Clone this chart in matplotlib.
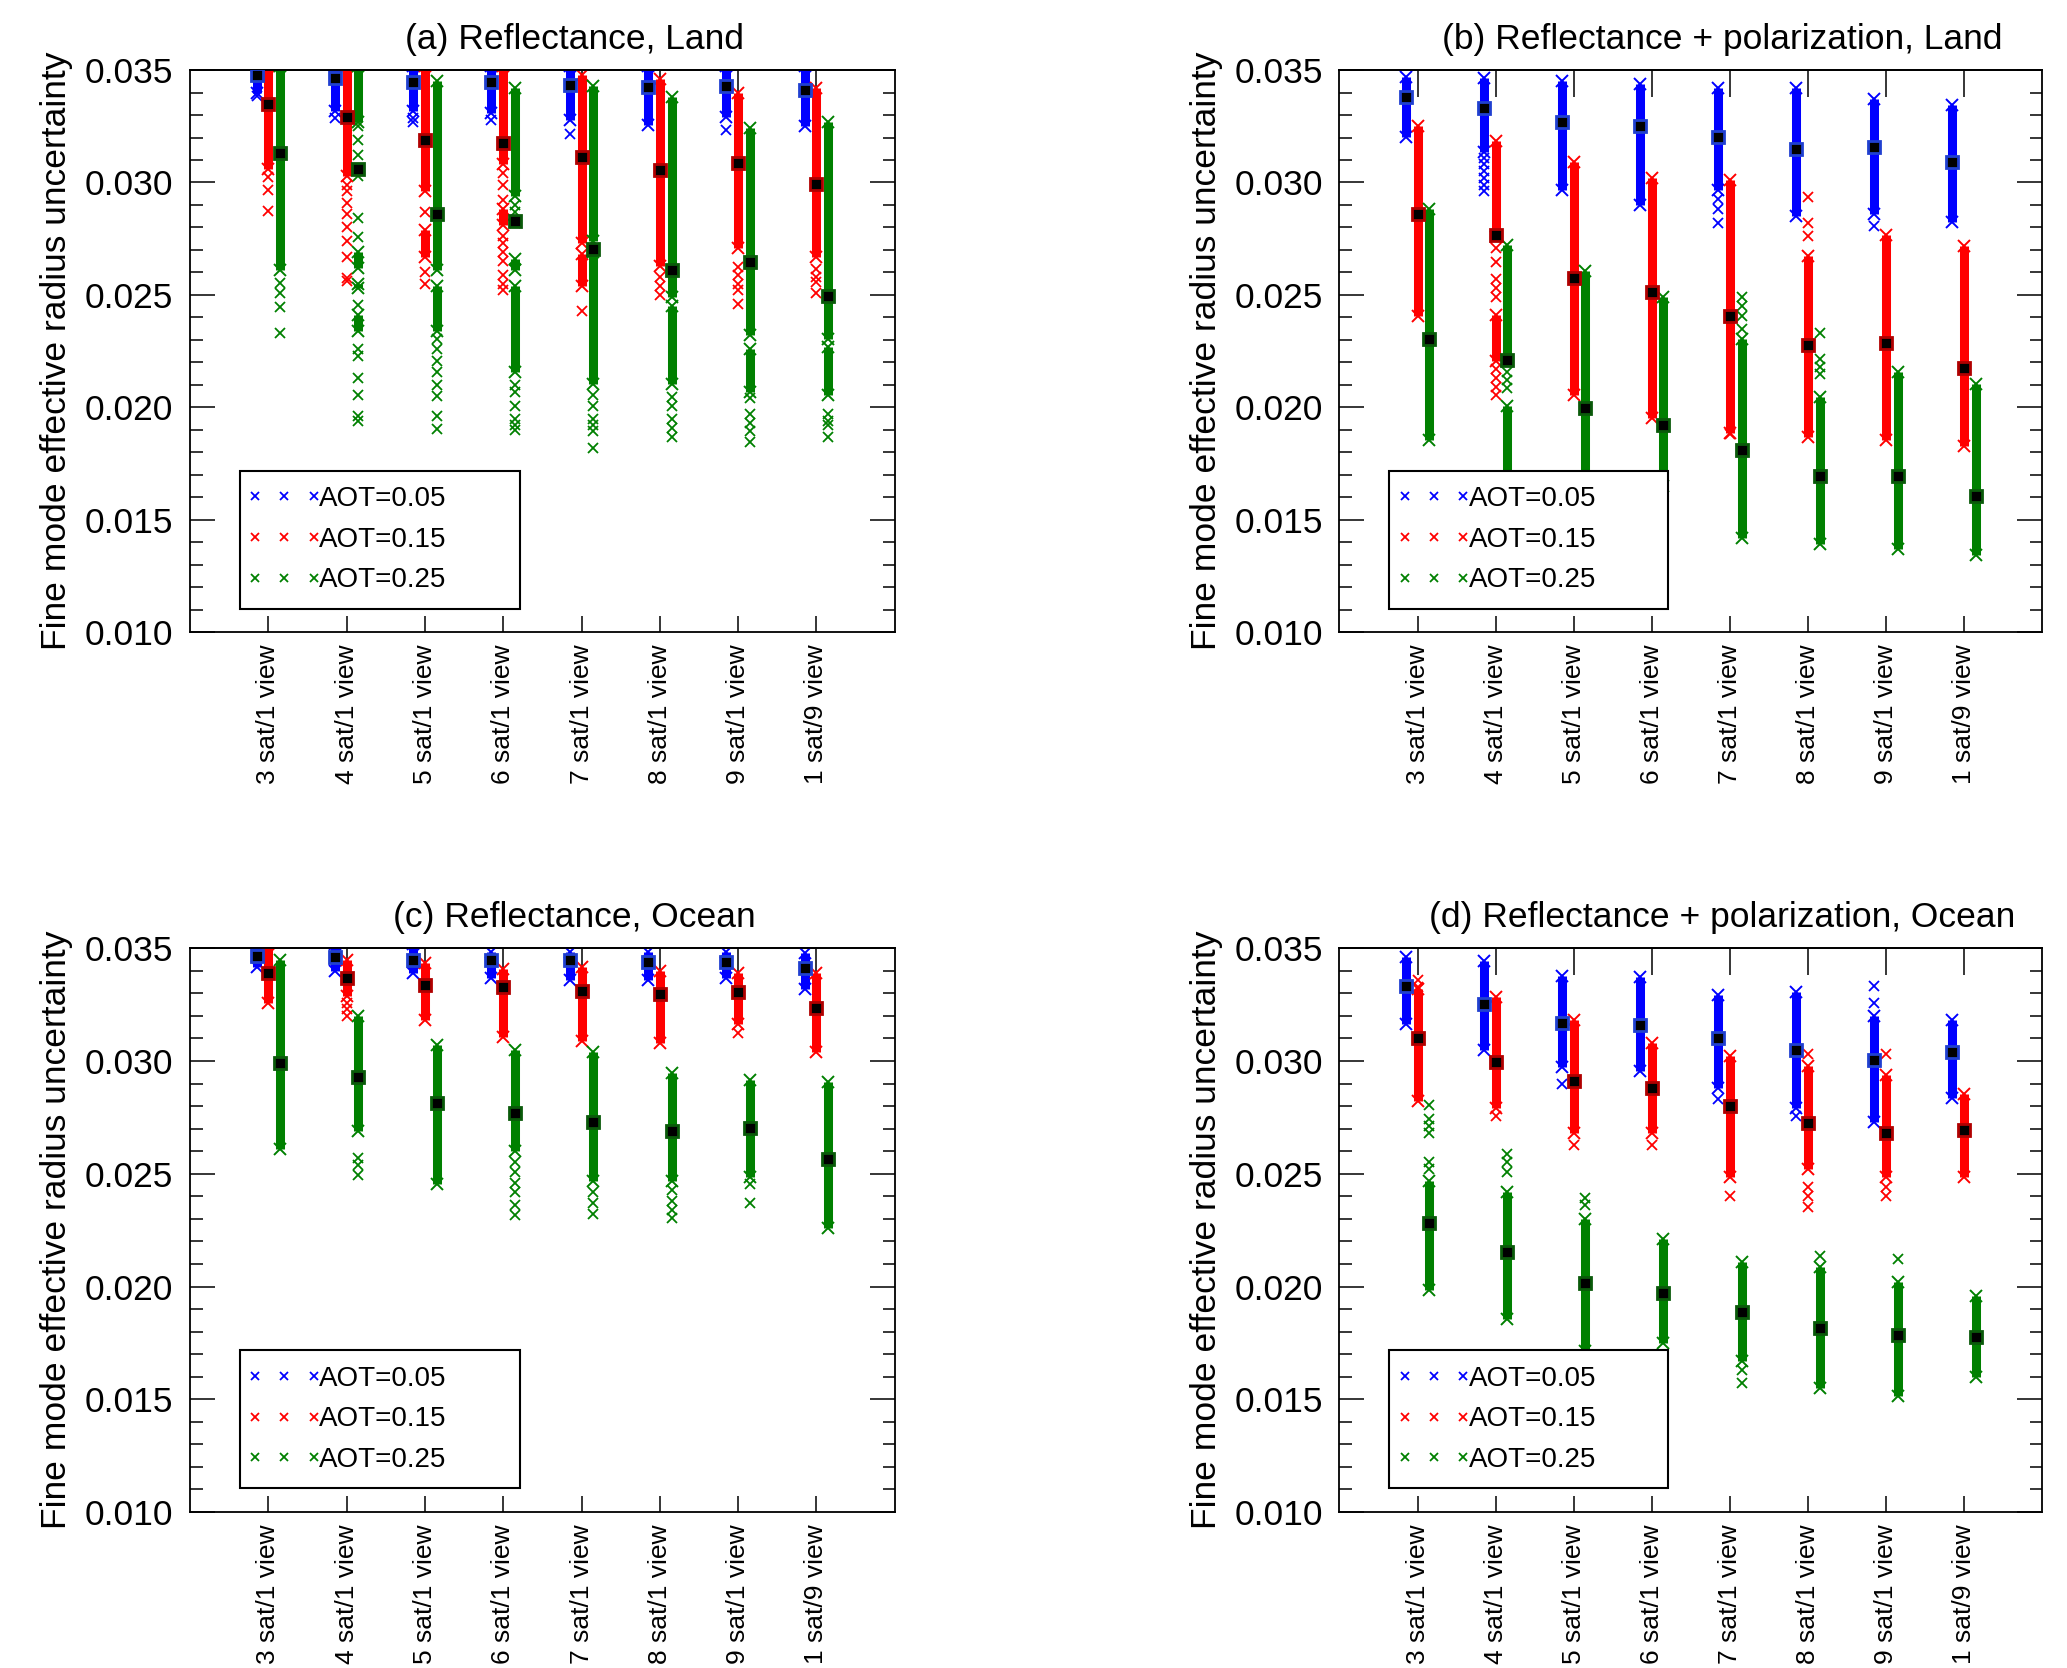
import matplotlib
matplotlib.use('Agg')
import matplotlib.pyplot as plt
from matplotlib.lines import Line2D
from matplotlib.legend_handler import HandlerLine2D
from matplotlib.ticker import MultipleLocator, FormatStrFormatter

plt.rcParams['font.family'] = ['Liberation Sans', 'DejaVu Sans']

# values are in units of 1e-3 (fine mode effective radius uncertainty)
SCALE = 1e-3

CATEGORIES = ['3 sat/1 view', '4 sat/1 view', '5 sat/1 view', '6 sat/1 view',
              '7 sat/1 view', '8 sat/1 view', '9 sat/1 view', '1 sat/9 view']
AOT_LABELS = ['AOT=0.05', 'AOT=0.15', 'AOT=0.25']
COLORS = ['#0000ff', '#ff0000', '#008000']
EDGES = ['#2040d0', '#b00000', '#0a5a0a']
TITLES = ['(a) Reflectance, Land', '(b) Reflectance + polarization, Land',
          '(c) Reflectance, Ocean', '(d) Reflectance + polarization, Ocean']

# ---- (a) Reflectance, Land ----
A_MEAN_005 = [34.78, 34.65, 34.48, 34.45, 34.33, 34.23, 34.28, 34.11]
A_MEAN_015 = [33.48, 32.91, 31.90, 31.77, 31.13, 30.56, 30.88, 29.92]
A_MEAN_025 = [31.30, 30.59, 28.58, 28.28, 27.03, 26.10, 26.46, 24.95]
A_SPANS_005 = [[(34.0, 35.2)], [(33.2, 35.2)], [(33.2, 35.2)], [(33.1, 35.2)],
               [(32.8, 35.2)], [(32.55, 35.2)], [(32.9, 35.2)], [(32.5, 35.2)]]
A_SPANS_015 = [[(30.6, 35.2)], [(30.3, 35.2)], [(29.6, 35.2), (26.7, 27.9)],
               [(30.8, 35.2), (28.1, 28.8)], [(27.3, 34.8), (25.4, 26.8)],
               [(26.3, 34.6)], [(27.1, 34.0)], [(26.7, 34.2)]]
A_SPANS_025 = [[(26.1, 35.2)], [(32.7, 35.2), (26.2, 26.9), (25.3, 25.5), (23.4, 24.1)],
               [(26.1, 34.5), (23.4, 25.4)], [(29.4, 34.2), (26.1, 26.6), (21.55, 25.4)],
               [(27.4, 34.3), (21.05, 26.9)], [(24.9, 33.8), (21.05, 24.5)],
               [(23.2, 32.44), (20.7, 22.6)], [(23.06, 32.7), (20.55, 22.7)]]
A_PTS_005 = [[33.85], [32.86], [32.86, 32.7], [32.8], [32.15], [], [32.32], []]
A_PTS_015 = [[30.26, 29.67, 28.72],
             [29.9, 29.6, 29.1, 28.6, 28.0, 27.4, 26.7, 25.74, 25.6],
             [28.7, 26.0, 25.5],
             [30.4, 29.9, 29.2, 27.6, 27.3, 26.9, 26.5, 25.9, 25.5, 25.2],
             [24.28], [25.8, 25.4, 25.0], [26.24, 25.9, 25.5, 25.24, 24.6],
             [26.15, 25.8, 25.57, 25.07]]
A_PTS_025 = [[25.52, 25.07, 24.45, 23.29],
             [32.5, 31.9, 31.2, 30.3, 28.42, 27.58, 24.56, 22.6, 22.3, 21.3, 20.54, 19.6, 19.4],
             [23.06, 22.6, 22.05, 21.55, 21.0, 20.5, 19.6, 19.04],
             [29.0, 28.7, 28.2, 21.0, 20.7, 20.04, 19.5, 19.2, 19.0],
             [20.55, 20.04, 19.5, 19.2, 18.96, 18.17],
             [20.46, 20.04, 19.5, 19.1, 18.7],
             [20.4, 19.7, 19.3, 18.95, 18.45],
             [19.7, 19.4, 19.2, 18.7]]

# ---- (b) Reflectance + polarization, Land ----
B_MEAN_005 = [33.78, 33.32, 32.69, 32.50, 32.02, 31.50, 31.57, 30.93]
B_MEAN_015 = [28.62, 27.66, 25.77, 25.15, 24.06, 22.79, 22.84, 21.77]
B_MEAN_025 = [23.06, 22.10, 19.96, 19.20, 18.12, 16.93, 16.93, 16.06]
B_SPANS_005 = [[(32.02, 34.7)], [(31.35, 34.65)], [(29.67, 34.53)], [(29.0, 34.36)],
               [(29.67, 34.2)], [(28.5, 34.2)], [(28.58, 33.7)], [(28.25, 33.44)]]
B_SPANS_015 = [[(24.06, 32.52)], [(27.58, 31.85), (22.05, 24.1)], [(20.54, 30.93)],
               [(19.54, 30.18)], [(18.87, 30.09)], [(18.7, 26.74)], [(18.53, 27.66)],
               [(18.28, 27.16)]]
B_SPANS_025 = [[(18.53, 28.84)], [(22.05, 27.24), (16.5, 20.04)], [(16.5, 26.07)],
               [(16.5, 24.9)], [(14.18, 23.06)], [(13.93, 20.46)], [(13.68, 21.55)],
               [(13.43, 21.05)]]
B_PTS_005 = [[], [31.1, 30.8, 30.5, 30.2, 29.9, 29.6], [], [], [29.25, 28.84, 28.22],
             [], [28.08], []]
B_PTS_015 = [[], [27.1, 26.45, 25.7, 25.3, 24.9, 21.7, 21.3, 20.9, 20.54], [], [],
             [18.82], [29.37, 28.2, 27.63], [], []]
B_PTS_025 = [[], [21.55, 21.2, 20.88], [], [], [24.9, 24.5, 24.06, 23.5],
             [23.3, 22.14, 21.8, 21.47], [], []]

# ---- (c) Reflectance, Ocean ----
C_MEAN_005 = [34.66, 34.61, 34.50, 34.50, 34.46, 34.38, 34.41, 34.13]
C_MEAN_015 = [33.91, 33.69, 33.38, 33.27, 33.12, 32.96, 33.04, 32.37]
C_MEAN_025 = [29.89, 29.27, 28.13, 27.68, 27.29, 26.88, 27.01, 25.65]
C_SPANS_005 = [[(34.16, 35.2)], [(34.0, 35.2)], [(33.9, 35.2)], [(33.66, 34.83)],
               [(33.58, 34.83)], [(33.6, 34.83)], [(33.66, 34.83)], [(33.2, 34.78)]]
C_SPANS_015 = [[(32.57, 35.2)], [(32.9, 34.5)], [(31.82, 34.33)], [(31.06, 34.08)],
               [(30.9, 34.16)], [(30.81, 34.0)], [(31.65, 33.91)], [(30.39, 33.91)]]
C_SPANS_025 = [[(26.12, 34.5)], [(26.88, 31.98)], [(24.53, 30.73)], [(26.0, 30.48)],
               [(24.7, 30.39)], [(24.7, 29.47)], [(24.87, 29.14)], [(22.6, 29.05)]]
C_PTS_005 = [[], [], [], [], [], [], [], []]
C_PTS_015 = [[], [32.57, 32.3, 31.98], [], [], [], [], [31.23], []]
C_PTS_025 = [[], [25.7, 25.4, 24.95], [], [25.5, 25.1, 24.6, 24.2, 23.6, 23.19],
             [24.2, 23.7, 23.2], [24.28, 23.8, 23.4, 23.02], [24.53, 23.7], []]

# ---- (d) Reflectance + polarization, Ocean ----
D_MEAN_005 = [33.32, 32.52, 31.70, 31.60, 31.01, 30.48, 30.06, 30.39]
D_MEAN_015 = [31.01, 29.97, 29.10, 28.79, 28.00, 27.26, 26.83, 26.93]
D_MEAN_025 = [22.82, 21.52, 20.14, 19.72, 18.87, 18.17, 17.83, 17.75]
D_SPANS_005 = [[(31.65, 34.61)], [(30.48, 34.45)], [(29.72, 33.78)], [(29.56, 33.74)],
               [(28.8, 32.91)], [(27.9, 33.07)], [(27.29, 31.98)], [(28.38, 31.82)]]
D_SPANS_015 = [[(28.22, 33.2)], [(27.9, 32.82)], [(26.8, 31.82)], [(26.8, 30.81)],
               [(24.87, 30.23)], [(25.2, 29.8)], [(24.87, 29.4)], [(24.87, 28.55)]]
D_SPANS_025 = [[(19.84, 24.7)], [(18.58, 24.2)], [(17.16, 23.0)], [(17.5, 22.1)],
               [(16.7, 21.1)], [(15.49, 20.85)], [(15.15, 20.2)], [(15.99, 19.59)]]
D_PTS_005 = [[], [], [28.97], [], [28.3], [27.55], [33.32, 32.57], []]
D_PTS_015 = [[33.58, 33.3], [27.55], [26.29], [26.29], [24.03],
             [30.31, 24.4, 24.0, 23.53], [30.31, 24.4, 24.0], []]
D_PTS_025 = [[28.05, 27.45, 27.1, 26.8, 25.5, 25.2], [25.87, 25.5, 25.1], [23.94, 23.6],
             [], [16.32, 15.74], [21.35], [21.2], []]

PANELS = [
    (A_MEAN_005, A_MEAN_015, A_MEAN_025, A_SPANS_005, A_SPANS_015, A_SPANS_025,
     A_PTS_005, A_PTS_015, A_PTS_025),
    (B_MEAN_005, B_MEAN_015, B_MEAN_025, B_SPANS_005, B_SPANS_015, B_SPANS_025,
     B_PTS_005, B_PTS_015, B_PTS_025),
    (C_MEAN_005, C_MEAN_015, C_MEAN_025, C_SPANS_005, C_SPANS_015, C_SPANS_025,
     C_PTS_005, C_PTS_015, C_PTS_025),
    (D_MEAN_005, D_MEAN_015, D_MEAN_025, D_SPANS_005, D_SPANS_015, D_SPANS_025,
     D_PTS_005, D_PTS_015, D_PTS_025),
]

OFFSETS = [-0.15, 0.0, 0.15]
X_POS = list(range(1, len(CATEGORIES) + 1))

fig = plt.figure(figsize=(20.67, 16.68), dpi=100)
rects = [[0.0919, 0.621, 0.341, 0.337], [0.648, 0.621, 0.340, 0.337],
         [0.0919, 0.0935, 0.341, 0.338], [0.648, 0.0935, 0.340, 0.338]]

for k, (rect, title, panel) in enumerate(zip(rects, TITLES, PANELS)):
    ax = fig.add_axes(rect)
    means = panel[0:3]
    spans = panel[3:6]
    pts = panel[6:9]

    for j in range(3):
        c = COLORS[j]
        for i, x0 in enumerate(X_POS):
            x = x0 + OFFSETS[j]
            for lo, hi in spans[j][i]:
                ax.vlines(x, lo * SCALE, hi * SCALE, colors=c, lw=6.5, zorder=2)
                ax.plot([x, x], [lo * SCALE, hi * SCALE], ls='none', marker='x',
                        color=c, ms=8, mew=1.4, zorder=2)
            if pts[j][i]:
                ax.plot([x] * len(pts[j][i]), [v * SCALE for v in pts[j][i]], ls='none',
                        marker='x', color=c, ms=7, mew=1.3, zorder=2)
        ax.plot([x0 + OFFSETS[j] for x0 in X_POS], [m * SCALE for m in means[j]], ls='none',
                marker='s', mfc='black', mec=EDGES[j], ms=8.5, mew=2, zorder=4)

    ax.set_xlim(0, 9)
    ax.set_ylim(0.010, 0.035)
    ax.set_xticks(X_POS)
    ax.set_xticklabels(CATEGORIES, rotation=90, fontsize=19)
    ax.yaxis.set_major_locator(MultipleLocator(0.005))
    ax.yaxis.set_minor_locator(MultipleLocator(0.001))
    ax.yaxis.set_major_formatter(FormatStrFormatter('%.3f'))
    ax.tick_params(axis='y', which='major', direction='in', length=18, width=1.1,
                   right=True, labelsize=25.5, pad=12)
    ax.tick_params(axis='y', which='minor', direction='in', length=9, width=1.1, right=True)
    ax.tick_params(axis='x', which='major', direction='in', length=11.5, width=1.1,
                   top=False, pad=9)
    secax = ax.secondary_xaxis('top')
    secax.set_xticks(X_POS)
    secax.tick_params(direction='in', length=19.5, width=1.1, labeltop=False)
    for sp in ax.spines.values():
        sp.set_linewidth(1.3)
    secax.spines['top'].set_linewidth(1.3)

    ax.set_ylabel('Fine mode effective radius uncertainty', fontsize=25.5)
    ax.yaxis.set_label_coords(-0.166, 0.5)
    ax.set_title(title, fontsize=25.5, x=0.545, pad=15)

    handles = [Line2D([], [], ls='none', marker='x', color=c, ms=6, mew=1.3) for c in COLORS]
    leg = ax.legend(handles, AOT_LABELS, loc='lower left',
                    bbox_to_anchor=(0.071, 0.042, 0.397, 0.246), mode='expand',
                    fontsize=20, frameon=True, fancybox=False, edgecolor='black',
                    framealpha=1, handlelength=2.1, handletextpad=0.2,
                    borderpad=0.55, labelspacing=0.53, borderaxespad=0,
                    handler_map={Line2D: HandlerLine2D(marker_pad=0, numpoints=3)})
    leg.get_frame().set_linewidth(1.5)
    leg.set_zorder(10)

fig.savefig('out.png', dpi=100)
